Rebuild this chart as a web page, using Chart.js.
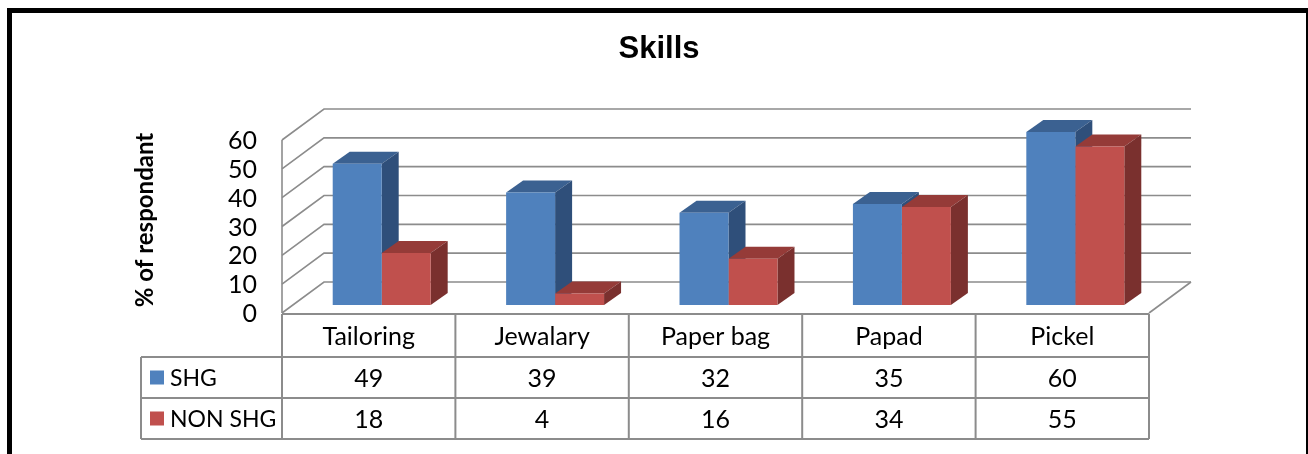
<!DOCTYPE html>
<html>
<head>
<meta charset="utf-8">
<script src="https://cdn.jsdelivr.net/npm/chart.js@4.4.1/dist/chart.umd.min.js"></script>
<style>
  html, body { margin: 0; padding: 0; background: #fff; overflow: hidden; }
  #wrap { position: relative; width: 1308px; height: 454px; }
  #c { position: absolute; left: 0; top: 0; }
  #frame { position: absolute; left: 7px; top: 8px; width: 1304px; height: 520px;
           border: 5px solid #000; box-sizing: border-box; pointer-events: none; }
</style>
</head>
<body>
<div id="wrap">
  <canvas id="c" width="1308" height="454"></canvas>
  <div id="frame"></div>
</div>
<script>
const categories = ['Tailoring', 'Jewalary', 'Paper bag', 'Papad', 'Pickel'];
const seriesNames = ['SHG', 'NON SHG'];
const shgValues = [49, 39, 32, 35, 60];
const nonShgValues = [18, 4, 16, 34, 55];
const yTickValues = [0, 10, 20, 30, 40, 50, 60];
const chartTitle = 'Skills';
const yAxisTitle = '% of respondant';

const frontColors = ['#4F81BD', '#C0504D'];
const topColors = ['#3B6191', '#953B38'];
const sideColors = ['#2F4F7A', '#7A302E'];

const LABEL_FONT = '25px Lato, "Open Sans", sans-serif';
const LEGEND_FONT = '23px Lato, "Open Sans", sans-serif';
const BAR_OFF = { x: 13, y: -8 };   // bar front plane vs floor front edge
const BAR_DEPTH = { x: 17, y: -12 };
const WALL_DEPTH = { x: 42, y: -31 };
const GRID = '#8C8C8C';

const threeD = {
  id: 'threeD',
  beforeDatasetsDraw(chart) {
    const ctx = chart.ctx;
    const ca = chart.chartArea;
    const ys = chart.scales.y;
    const backRight = ca.right + WALL_DEPTH.x;
    ctx.save();
    ctx.strokeStyle = GRID;
    ctx.lineWidth = 1.6;
    yTickValues.forEach(v => {
      const y = ys.getPixelForValue(v);
      ctx.beginPath();
      ctx.moveTo(ca.left, y);
      ctx.lineTo(ca.left + WALL_DEPTH.x, y + WALL_DEPTH.y);
      ctx.lineTo(backRight, y + WALL_DEPTH.y);
      ctx.stroke();
    });
    ctx.beginPath();
    ctx.moveTo(ca.left, ys.getPixelForValue(yTickValues[yTickValues.length - 1]));
    ctx.lineTo(ca.left, ca.bottom);
    ctx.stroke();
    ctx.beginPath();
    ctx.moveTo(ca.right, ca.bottom);
    ctx.lineTo(backRight, ca.bottom + WALL_DEPTH.y);
    ctx.stroke();
    const n = chart.data.labels.length;
    for (let i = 0; i < n; i++) {
      chart.data.datasets.forEach((ds, d) => {
        const el = chart.getDatasetMeta(d).data[i];
        const l = el.x - el.width / 2 + BAR_OFF.x;
        const r = el.x + el.width / 2 + BAR_OFF.x;
        const t = el.y + BAR_OFF.y;
        const b = el.base + BAR_OFF.y;
        ctx.fillStyle = topColors[d];
        ctx.beginPath();
        ctx.moveTo(l, t); ctx.lineTo(r, t);
        ctx.lineTo(r + BAR_DEPTH.x, t + BAR_DEPTH.y);
        ctx.lineTo(l + BAR_DEPTH.x, t + BAR_DEPTH.y);
        ctx.closePath(); ctx.fill();
        ctx.fillStyle = sideColors[d];
        ctx.beginPath();
        ctx.moveTo(r, t); ctx.lineTo(r + BAR_DEPTH.x, t + BAR_DEPTH.y);
        ctx.lineTo(r + BAR_DEPTH.x, b + BAR_DEPTH.y);
        ctx.lineTo(r, b);
        ctx.closePath(); ctx.fill();
      });
    }
    ctx.restore();
    ctx.save();
    ctx.translate(BAR_OFF.x, BAR_OFF.y);
  },
  afterDatasetsDraw(chart) {
    chart.ctx.restore();
  },
  afterDraw(chart) {
    const ctx = chart.ctx;
    const ca = chart.chartArea;
    const ys = chart.scales.y;
    const n = categories.length;
    const colW = (ca.right - ca.left) / n;
    ctx.save();
    ctx.fillStyle = '#000';
    ctx.font = 'bold 31px "Liberation Sans", Arial, sans-serif';
    ctx.textAlign = 'center';
    ctx.textBaseline = 'middle';
    ctx.fillText(chartTitle, 659, 49);
    ctx.save();
    ctx.translate(145, 220);
    ctx.rotate(-Math.PI / 2);
    ctx.font = 'bold 24px Lato, "Open Sans", sans-serif';
    ctx.fillText(yAxisTitle, 0, 0);
    ctx.restore();
    ctx.font = LABEL_FONT;
    ctx.textAlign = 'right';
    yTickValues.forEach(v => {
      ctx.fillText(String(v), 257, ys.getPixelForValue(v) + 1);
    });
    const rowTop = ca.bottom + 1;
    const rowH = [43, 41, 41];
    const r1 = rowTop + rowH[0], r2 = r1 + rowH[1], r3 = r2 + rowH[2];
    const legLeft = 141;
    ctx.strokeStyle = GRID;
    ctx.lineWidth = 2;
    ctx.beginPath();
    ctx.moveTo(ca.left, rowTop); ctx.lineTo(ca.right, rowTop);
    [r1, r2, r3].forEach(y => { ctx.moveTo(legLeft, y); ctx.lineTo(ca.right, y); });
    for (let k = 0; k <= n; k++) {
      const x = ca.left + k * colW;
      ctx.moveTo(x, rowTop); ctx.lineTo(x, r3);
    }
    ctx.moveTo(legLeft, r1); ctx.lineTo(legLeft, r3);
    ctx.stroke();
    ctx.fillStyle = '#000';
    ctx.textAlign = 'center';
    ctx.font = LABEL_FONT;
    const rows = [shgValues, nonShgValues];
    for (let i = 0; i < n; i++) {
      const cx = ca.left + (i + 0.5) * colW;
      ctx.fillText(categories[i], cx, (rowTop + r1) / 2 + 1);
      ctx.fillText(String(rows[0][i]), cx, (r1 + r2) / 2 + 1);
      ctx.fillText(String(rows[1][i]), cx, (r2 + r3) / 2 + 1);
    }
    const rowMid = [(r1 + r2) / 2, (r2 + r3) / 2];
    ctx.textAlign = 'left';
    ctx.font = LEGEND_FONT;
    seriesNames.forEach((s, d) => {
      ctx.fillStyle = frontColors[d];
      ctx.fillRect(150, rowMid[d] - 7, 14, 14);
      ctx.fillStyle = '#000';
      ctx.fillText(s, 170, rowMid[d] + 1);
    });
    ctx.restore();
  }
};

new Chart(document.getElementById('c'), {
  type: 'bar',
  data: {
    labels: categories,
    datasets: [
      { label: seriesNames[0], data: shgValues, backgroundColor: frontColors[0], clip: false },
      { label: seriesNames[1], data: nonShgValues, backgroundColor: frontColors[1], clip: false }
    ]
  },
  options: {
    responsive: false,
    animation: false,
    layout: { padding: { left: 282, right: 159, top: 140, bottom: 141 } },
    datasets: { bar: { categoryPercentage: 0.565, barPercentage: 1 } },
    plugins: { legend: { display: false }, tooltip: { enabled: false }, title: { display: false } },
    scales: {
      x: { display: false, offset: true },
      y: { display: false, min: 0, max: 60, ticks: { stepSize: 10 } }
    }
  },
  plugins: [threeD]
});
</script>
</body>
</html>
